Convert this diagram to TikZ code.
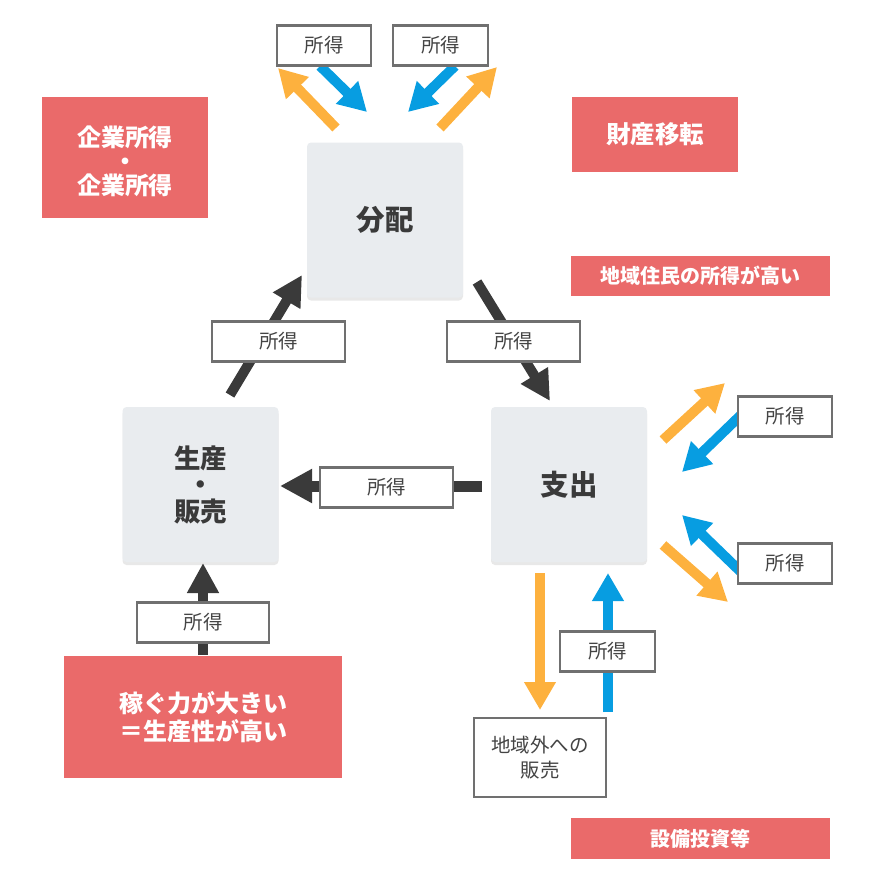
\documentclass[tikz,border=0pt]{standalone}
\usepackage{fontspec}
\setmainfont{Noto Sans CJK JP}
\usetikzlibrary{arrows.meta,shadows}
\definecolor{boxgray}{HTML}{E9ECEF}
\definecolor{boxred}{HTML}{EA6A6A}
\definecolor{lblborder}{HTML}{707070}
\definecolor{lbltext}{HTML}{444444}
\definecolor{darkarrow}{HTML}{3A3A3A}
\definecolor{orangearrow}{HTML}{FDB13E}
\definecolor{bluearrow}{HTML}{079DE1}
\definecolor{maintext}{HTML}{3A3A3A}
\begin{document}
\begin{tikzpicture}[x=1pt,y=-1pt,
  graybox/.style={fill=boxgray, rounded corners=4pt, minimum width=156pt, minimum height=155pt, inner sep=0pt,
    drop shadow={opacity=0.18, shadow xshift=0pt, shadow yshift=-3pt},
    font=\fontsize{28.5}{30}\selectfont\bfseries, text=maintext, align=center},
  redbox/.style={fill=boxred, inner sep=0pt, text=white, align=center, font=\fontsize{24.5}{26}\selectfont\bfseries},
  redtxt/.style={inner sep=0pt, text=white, align=center, font=\fontsize{24}{24}\selectfont\bfseries},
  lbl/.style={draw=lblborder, line width=2.5pt, fill=white, inner sep=0pt, minimum height=40pt,
    text=lbltext, font=\fontsize{19.5}{25}\selectfont, align=center},
  darr/.style={draw=darkarrow, line width=10pt, -{Triangle[length=30pt,width=30pt]}},
  oarr/.style={draw=orangearrow, line width=10pt, -{Triangle[length=28pt,width=30pt]}},
  barr/.style={draw=bluearrow, line width=10pt, -{Triangle[length=28pt,width=30pt]}}
]
\useasboundingbox (0,0) rectangle (875,887);

% main boxes
\node[graybox] (bunpai) at (385,220) {分配};
\node[graybox, font=\fontsize{26.5}{26.5}\selectfont\bfseries] (seisan) at (200.5,484.5) {生産\\・\\販売};
\node[graybox] (shishutsu) at (569,484.5) {支出};

% red boxes
\node[redbox, minimum width=166pt, minimum height=121pt] (kigyo) at (125,157.5) {};
\node[redtxt] (kigyotxt) at ([yshift=-4pt]kigyo.center) {企業所得\\・\\企業所得};
\node[redbox, minimum width=166pt, minimum height=75pt] (zaisan) at (655,134.5) {財産移転};
\node[redbox, minimum width=259pt, minimum height=40pt, font=\fontsize{20}{20}\selectfont\bfseries] (jumin) at (700.5,276) {地域住民の所得が高い};
\node[redbox, minimum width=278pt, minimum height=122pt, font=\fontsize{24}{27.5}\selectfont\bfseries] (kasegu) at (203,717) {稼ぐ力が大きい\\＝生産性が高い};
\node[redbox, minimum width=259pt, minimum height=41pt, font=\fontsize{20}{20}\selectfont\bfseries] (setsubi) at (700.5,838.5) {設備投資等};

% coordinates for arrow ends
\coordinate (aL0) at (230,395); \coordinate (aL1) at (302,275);
\coordinate (aR0) at (477,282); \coordinate (aR1) at (550,401);
\coordinate (aM0) at (482,486); \coordinate (aM1) at (280,486);
\coordinate (aB0) at (203,655); \coordinate (aB1) at (203,563);

\coordinate (t1o0) at (336,128); \coordinate (t1o1) at (278,68);
\coordinate (t1b0) at (320,66); \coordinate (t1b1) at (367,112);
\coordinate (t2b0) at (455,66); \coordinate (t2b1) at (408,112);
\coordinate (t2o0) at (440,128); \coordinate (t2o1) at (497,67);

\coordinate (r1o0) at (663,440); \coordinate (r1o1) at (725,383);
\coordinate (r1b0) at (742,414); \coordinate (r1b1) at (682,472);
\coordinate (r2b0) at (742,573); \coordinate (r2b1) at (682,515);
\coordinate (r2o0) at (663,545); \coordinate (r2o1) at (728,602);

\coordinate (bo0) at (540,573); \coordinate (bo1) at (540,710);
\coordinate (bb0) at (608,712); \coordinate (bb1) at (608,573);

% dark arrows
\draw[darr] (aL0) -- (aL1);
\draw[darr] (aR0) -- (aR1);
\draw[darr, line width=11pt, -{Triangle[length=32pt,width=32pt]}] (aM0) -- (aM1);
\draw[darr] (aB0) -- (aB1);

% colored arrows
\draw[oarr] (t1o0) -- (t1o1);
\draw[barr] (t1b0) -- (t1b1);
\draw[barr] (t2b0) -- (t2b1);
\draw[oarr] (t2o0) -- (t2o1);
\draw[oarr] (r1o0) -- (r1o1);
\draw[barr] (r1b0) -- (r1b1);
\draw[barr] (r2b0) -- (r2b1);
\draw[oarr] (r2o0) -- (r2o1);
\draw[oarr] (bo0) -- (bo1);
\draw[barr] (bb0) -- (bb1);

% label boxes
\node[lbl, minimum width=94pt] (lt1) at (324,45.5) {所得};
\node[lbl, minimum width=95pt] (lt2) at (440.5,45.5) {所得};
\node[lbl, minimum width=133pt] (lL) at (278.5,341.5) {所得};
\node[lbl, minimum width=133pt] (lR) at (513.5,341.5) {所得};
\node[lbl, minimum width=133pt] (lM) at (386.5,487.5) {所得};
\node[lbl, minimum width=132pt] (lB) at (203,622.5) {所得};
\node[lbl, minimum width=94pt] (lr1) at (785,416.5) {所得};
\node[lbl, minimum width=94pt] (lr2) at (785,563.5) {所得};
\node[lbl, minimum width=95pt] (lb) at (607.5,651.5) {所得};
\node[lbl, minimum width=132pt, minimum height=79pt] (chiiki) at (540,757.5) {地域外への\\販売};
\end{tikzpicture}
\end{document}
